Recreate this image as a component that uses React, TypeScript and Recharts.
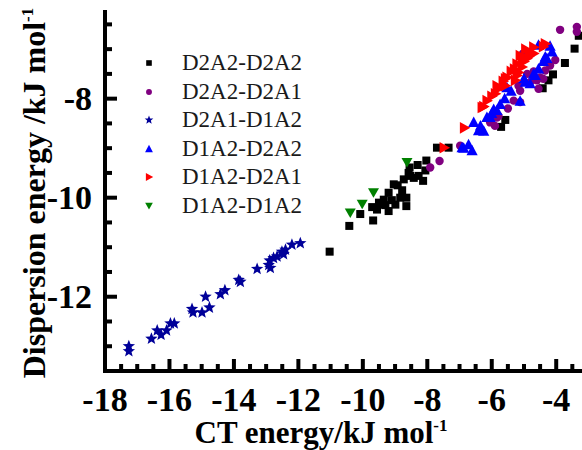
import React from 'react';
import { ScatterChart, Scatter, XAxis, YAxis, Label } from 'recharts';

// CT energy (x) vs dispersion energy (y), kJ/mol
const d2a2d2a2: [number, number][] = [
  [-11.03, -11.09], [-10.42, -10.57], [-10.08, -10.33], [-9.68, -10.46], [-9.71, -10.19],
  [-9.56, -10.24], [-9.46, -10.14], [-9.2, -10.27], [-9.35, -10.04], [-9.2, -9.9],
  [-8.99, -10.14], [-8.84, -10.0], [-8.65, -10.17], [-8.65, -10.0], [-8.78, -9.85],
  [-8.92, -9.75], [-9.04, -9.73], [-8.73, -9.63], [-8.58, -9.5], [-8.55, -9.39],
  [-8.53, -9.56], [-8.42, -9.6], [-8.27, -9.56], [-8.13, -9.66], [-8.3, -9.34],
  [-8.03, -9.25], [-8.06, -9.45], [-9.5, -10.1], [-9.3, -10.15], [-9.1, -10.05],
  [-7.7, -8.99], [-7.34, -8.99], [-5.58, -8.43], [-5.71, -8.57], [-4.42, -7.79],
  [-4.24, -7.63], [-4.1, -7.51], [-3.73, -7.28], [-3.43, -6.99], [-3.3, -6.73],
];

const d2a2d2a1: [number, number][] = [
  [-7.91, -9.39], [-7.62, -9.26], [-6.98, -8.95], [-6.05, -8.48], [-5.84, -8.38],
  [-5.79, -8.35], [-5.32, -8.04], [-5.12, -8.07], [-5.12, -7.84], [-5.17, -7.74],
  [-4.81, -7.67], [-4.6, -7.63], [-4.55, -7.8], [-4.5, -7.57], [-4.34, -7.43],
  [-4.19, -7.33], [-4.03, -7.22], [-5.03, -7.09], [-3.88, -6.61], [-3.36, -6.55],
  [-3.36, -6.65], [-5.5, -8.2], [-4.9, -7.5], [-4.7, -7.45], [-4.4, -7.6], [-5.9, -8.55],
];

const d2a1d1a2: [number, number][] = [
  [-17.26, -13.0], [-17.26, -13.1], [-16.56, -12.85], [-16.38, -12.68], [-16.26, -12.77],
  [-16.09, -12.68], [-15.97, -12.54], [-15.85, -12.54], [-15.3, -12.25], [-15.27, -12.32],
  [-14.99, -12.32], [-14.88, -12.0], [-14.76, -12.22], [-14.42, -11.95], [-14.28, -11.87],
  [-13.85, -11.66], [-13.8, -11.7], [-13.28, -11.44], [-12.92, -11.36], [-12.87, -11.42],
  [-12.89, -11.27], [-12.77, -11.22], [-12.66, -11.19], [-12.51, -11.09], [-12.46, -11.14],
  [-12.4, -11.05], [-12.2, -10.95], [-11.94, -10.92],
];

const d1a2d2a2: [number, number][] = [
  [-6.92, -8.99], [-6.87, -9.0], [-6.72, -8.93], [-6.61, -9.05], [-6.56, -8.48],
  [-6.41, -8.65], [-6.25, -8.66], [-6.15, -8.38], [-6.05, -8.38], [-5.94, -8.22],
  [-5.84, -8.24], [-5.74, -8.12], [-5.53, -7.78], [-5.12, -8.05], [-4.96, -7.67],
  [-4.81, -7.7], [-4.65, -7.53], [-4.55, -7.4], [-4.29, -7.19], [-4.13, -7.06],
  [-4.19, -6.94], [-4.55, -6.92], [-4.34, -7.16], [-6.35, -8.55], [-6.0, -8.3],
  [-5.6, -8.0], [-5.4, -7.85], [-5.0, -7.6], [-4.7, -7.5], [-4.4, -7.25],
];

const d1a2d2a1: [number, number][] = [
  [-7.48, -8.99], [-6.85, -8.59], [-6.3, -8.18], [-6.25, -8.16], [-6.15, -8.04],
  [-5.89, -7.9], [-5.84, -7.74], [-5.79, -7.8], [-5.58, -7.74], [-5.53, -7.57],
  [-5.58, -7.6], [-5.27, -7.63], [-5.22, -7.53], [-5.17, -7.47], [-5.22, -7.3],
  [-5.06, -7.19], [-5.06, -7.36], [-4.91, -7.19], [-4.81, -7.09], [-4.7, -7.09],
  [-4.7, -6.96], [-4.34, -6.89], [-5.12, -7.13], [-5.4, -7.45], [-5.0, -7.25],
  [-4.85, -7.15], [-5.3, -7.4], [-4.95, -7.0], [-6.0, -7.95], [-5.65, -7.65], [-4.4, -6.95],
];

const d1a2d1a2: [number, number][] = [
  [-10.39, -10.31], [-10.02, -10.13], [-9.67, -9.9], [-8.63, -9.29],
];

const xTicks = Array.from({ length: 30 }, (_, i) => -18 + i * 0.5);
const yTicks = Array.from({ length: 14 }, (_, i) => -13 + i * 0.5);

const toPts = (arr: [number, number][]) => arr.map(([x, y]) => ({ x, y }));

type Kind = 'square' | 'circle' | 'star' | 'up' | 'right' | 'down';

function Marker({ kind, cx, cy, color, s = 1 }: { kind: Kind; cx: number; cy: number; color: string; s?: number }) {
  if (kind === 'square') return <rect x={cx - 4 * s} y={cy - 4 * s} width={8 * s} height={8 * s} fill={color} />;
  if (kind === 'circle') return <circle cx={cx} cy={cy} r={4.2 * s} fill={color} />;
  if (kind === 'up')
    return <polygon points={`${cx},${cy - 6 * s} ${cx - 5.6 * s},${cy + 4.5 * s} ${cx + 5.6 * s},${cy + 4.5 * s}`} fill={color} />;
  if (kind === 'right')
    return <polygon points={`${cx + 6 * s},${cy} ${cx - 4.5 * s},${cy - 5.8 * s} ${cx - 4.5 * s},${cy + 5.8 * s}`} fill={color} />;
  if (kind === 'down')
    return <polygon points={`${cx},${cy + 5 * s} ${cx - 5.5 * s},${cy - 4.5 * s} ${cx + 5.5 * s},${cy - 4.5 * s}`} fill={color} />;
  const pts: string[] = [];
  for (let i = 0; i < 10; i++) {
    const r = (i % 2 === 0 ? 6.5 : 2.8) * s;
    const a = -Math.PI / 2 + (i * Math.PI) / 5;
    pts.push(`${cx + r * Math.cos(a)},${cy + r * Math.sin(a)}`);
  }
  return <polygon points={pts.join(' ')} fill={color} />;
}

const series: { name: string; data: [number, number][]; kind: Kind; color: string }[] = [
  { name: 'D2A2-D2A2', data: d2a2d2a2, kind: 'square', color: '#000000' },
  { name: 'D2A2-D2A1', data: d2a2d2a1, kind: 'circle', color: '#800080' },
  { name: 'D2A1-D1A2', data: d2a1d1a2, kind: 'star', color: '#000099' },
  { name: 'D1A2-D2A2', data: d1a2d2a2, kind: 'up', color: '#0000ff' },
  { name: 'D1A2-D2A1', data: d1a2d2a1, kind: 'right', color: '#ff0000' },
  { name: 'D1A2-D1A2', data: d1a2d1a2, kind: 'down', color: '#008000' },
];

const font = '"Liberation Serif", "Times New Roman", serif';

const XTick = (props: any) => {
  const { x, y, payload } = props;
  const v = payload.value;
  const major = Number.isInteger(v) && v % 2 === 0;
  return (
    <g>
      <line x1={x} x2={x} y1={y} y2={y - (major ? 12 : 7)} stroke="#000" strokeWidth={4} />
      {major && (
        <text x={x} y={y + 40} textAnchor="middle" fontFamily={font} fontWeight="bold" fontSize={34} fill="#000">
          {String(v)}
        </text>
      )}
    </g>
  );
};

const YTick = (props: any) => {
  const { x, y, payload } = props;
  const v = payload.value;
  const major = Number.isInteger(v) && v % 2 === 0;
  return (
    <g>
      <line x1={x} x2={x + (major ? 12 : 7)} y1={y} y2={y} stroke="#000" strokeWidth={4} />
      {major && (
        <text x={x - 13} y={y + 11} textAnchor="end" fontFamily={font} fontWeight="bold" fontSize={34} fill="#000">
          {String(v)}
        </text>
      )}
    </g>
  );
};

export default function App() {
  return (
    <div style={{ position: 'absolute', left: 0, top: 0, width: 582, height: 450, overflow: 'hidden', background: '#fff' }}>
      <ScatterChart width={582} height={450} margin={{ top: 12, right: 0, bottom: 0, left: 0 }}>
        <XAxis
          type="number"
          dataKey="x"
          domain={[-18, -3.2]}
          ticks={xTicks}
          interval={0}
          allowDataOverflow
          height={79}
          tickSize={0}
          tickMargin={0}
          tick={<XTick />}
          axisLine={{ stroke: '#000', strokeWidth: 4, strokeLinecap: 'square' }}
        >
          <Label
            content={() => (
              <text x={321} y={443} textAnchor="middle" fontFamily={font} fontWeight="bold" fontSize={31} fill="#000">
                CT energy/kJ mol
                <tspan dy={-12} fontSize={17}>-1</tspan>
              </text>
            )}
          />
        </XAxis>
        <YAxis
          type="number"
          dataKey="y"
          domain={[-13.5, -6.25]}
          ticks={yTicks}
          interval={0}
          allowDataOverflow
          width={105}
          tickSize={0}
          tickMargin={0}
          tick={<YTick />}
          axisLine={{ stroke: '#000', strokeWidth: 4, strokeLinecap: 'square' }}
        >
          <Label
            content={() => (
              <text
                x={45}
                y={193}
                textAnchor="middle"
                transform="rotate(-90, 45, 193)"
                fontFamily={font}
                fontWeight="bold"
                fontSize={32}
                fill="#000"
              >
                Dispersion energy /kJ mol
                <tspan dy={-12} fontSize={17}>-1</tspan>
              </text>
            )}
          />
        </YAxis>
        {series.map((s) => (
          <Scatter
            key={s.name}
            name={s.name}
            data={toPts(s.data)}
            fill={s.color}
            isAnimationActive={false}
            shape={(p: any) => <Marker kind={s.kind} cx={p.cx} cy={p.cy} color={s.color} />}
          />
        ))}
      </ScatterChart>
      <div style={{ position: 'absolute', left: 135, top: 49, fontFamily: font, fontSize: 23, color: '#1a1a1a' }}>
        {series.map((s) => (
          <div key={s.name} style={{ display: 'flex', alignItems: 'center', height: 28.5 }}>
            <svg width={28} height={20} style={{ marginRight: 19 }}>
              <Marker kind={s.kind} cx={14} cy={10} color={s.color} s={0.7} />
            </svg>
            <span style={{ lineHeight: '28.5px' }}>{s.name}</span>
          </div>
        ))}
      </div>
    </div>
  );
}
